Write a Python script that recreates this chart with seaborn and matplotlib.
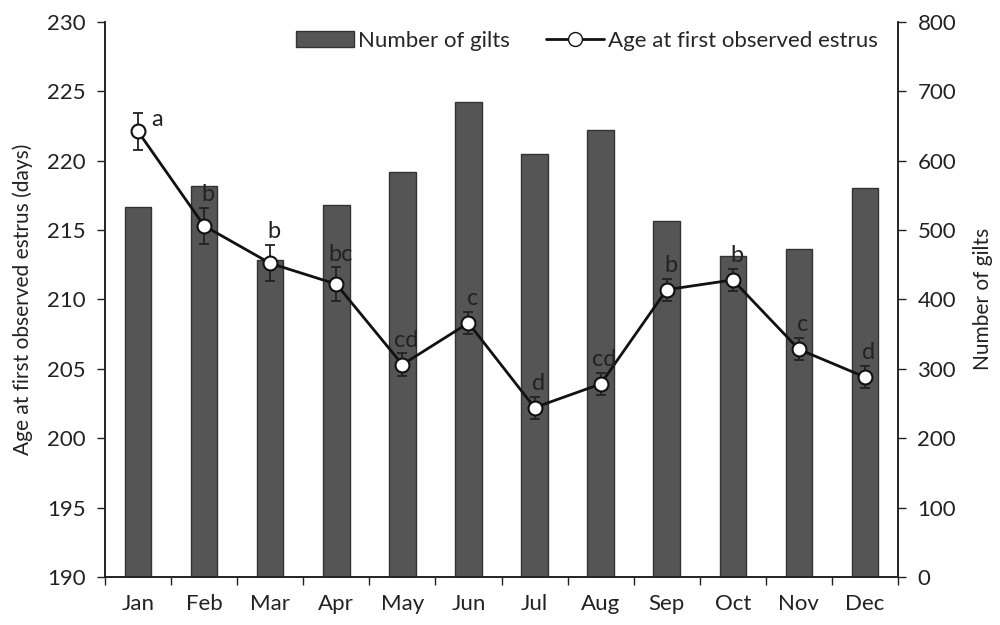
import numpy as np
import seaborn as sns
import matplotlib.pyplot as plt
import pandas as pd
from matplotlib.patches import Patch
from matplotlib.lines import Line2D

months = ["Jan", "Feb", "Mar", "Apr", "May", "Jun",
          "Jul", "Aug", "Sep", "Oct", "Nov", "Dec"]
gilts = [533, 563, 457, 536, 583, 684, 610, 644, 513, 462, 473, 560]
age = [222.1, 215.3, 212.6, 211.1, 205.3, 208.3,
       202.2, 203.9, 210.7, 211.4, 206.4, 204.4]
age_se = [1.3, 1.3, 1.3, 1.2, 0.8, 0.8, 0.8, 0.8, 0.8, 0.8, 0.8, 0.8]
letters = ["a", "b", "b", "bc", "cd", "c", "d", "cd", "b", "b", "c", "d"]

sns.set_theme(style="ticks")
plt.rcParams["font.family"] = ["Lato", "DejaVu Sans"]

df = pd.DataFrame({"month": months, "gilts": gilts, "age": age})

fig, ax = plt.subplots(figsize=(10, 6.25), dpi=100)
fig.subplots_adjust(left=0.105, right=0.898, top=0.965, bottom=0.077)
ax2 = ax.twinx()

# bars on the right axis, drawn behind the line
sns.barplot(data=df, x="month", y="gilts", ax=ax2, color="#555555",
            saturation=1, width=0.4, edgecolor="#333333", linewidth=1)
ax2.set_ylim(0, 800)
ax2.set_yticks(range(0, 801, 100))
ax2.set_ylabel("Number of gilts", fontsize=15, color="#222222", labelpad=12)
ax2.set_xlabel("")

ax.set_zorder(ax2.get_zorder() + 1)
ax.patch.set_visible(False)

pos = np.arange(len(months))
ax.errorbar(pos, age, yerr=age_se, fmt="none", ecolor="#222222",
            elinewidth=1.3, capsize=3.5, capthick=1.3, zorder=3)
sns.lineplot(x=pos, y=age, ax=ax, color="#111111", linewidth=2,
             marker="o", markersize=10, markerfacecolor="white",
             markeredgecolor="#111111", markeredgewidth=1.5, zorder=4)

for i, (a, s, t) in enumerate(zip(age, age_se, letters)):
    if i == 0:
        ax.text(i + 0.2, a + 0.9, t, fontsize=17, ha="left", va="center",
                color="#222222", zorder=5)
    else:
        ax.text(i + 0.06, a + s + 0.2, t, fontsize=17, ha="center",
                va="bottom", color="#222222", zorder=5)

ax.set_ylim(190, 230)
ax.set_yticks(range(190, 231, 5))
ax.set_xlim(-0.5, len(months) - 0.5)
ax.set_ylabel("Age at first observed estrus (days)", fontsize=15,
              color="#222222", labelpad=10)

# ticks between categories, labels on categories
ax.set_xticks(pos)
ax.set_xticklabels(months)
ax.set_xticks(np.arange(-0.5, len(months)), minor=True)
ax.tick_params(axis="x", which="major", length=0, pad=12)
ax.tick_params(axis="x", which="minor", length=6, width=1, color="#222222")
ax2.tick_params(axis="x", which="both", length=0)

for a in (ax, ax2):
    a.tick_params(axis="y", labelsize=16, length=6, width=1, pad=8,
                  color="#222222", labelcolor="#222222")
    a.spines["top"].set_visible(False)
    for sp in ("left", "right", "bottom"):
        a.spines[sp].set_color("#222222")
        a.spines[sp].set_linewidth(1.2)
ax.tick_params(axis="x", labelsize=16, labelcolor="#222222")

handles = [Patch(facecolor="#555555", edgecolor="#333333"),
           Line2D([], [], color="#111111", linewidth=2, marker="o",
                  markersize=10, markerfacecolor="white",
                  markeredgecolor="#111111")]
ax.legend(handles, ["Number of gilts", "Age at first observed estrus"],
          loc="upper right", bbox_to_anchor=(1.0, 1.02), ncol=2,
          frameon=False, fontsize=16, handlelength=2.6, columnspacing=1.6,
          handletextpad=0.2)

plt.savefig("out.png", dpi=100)
